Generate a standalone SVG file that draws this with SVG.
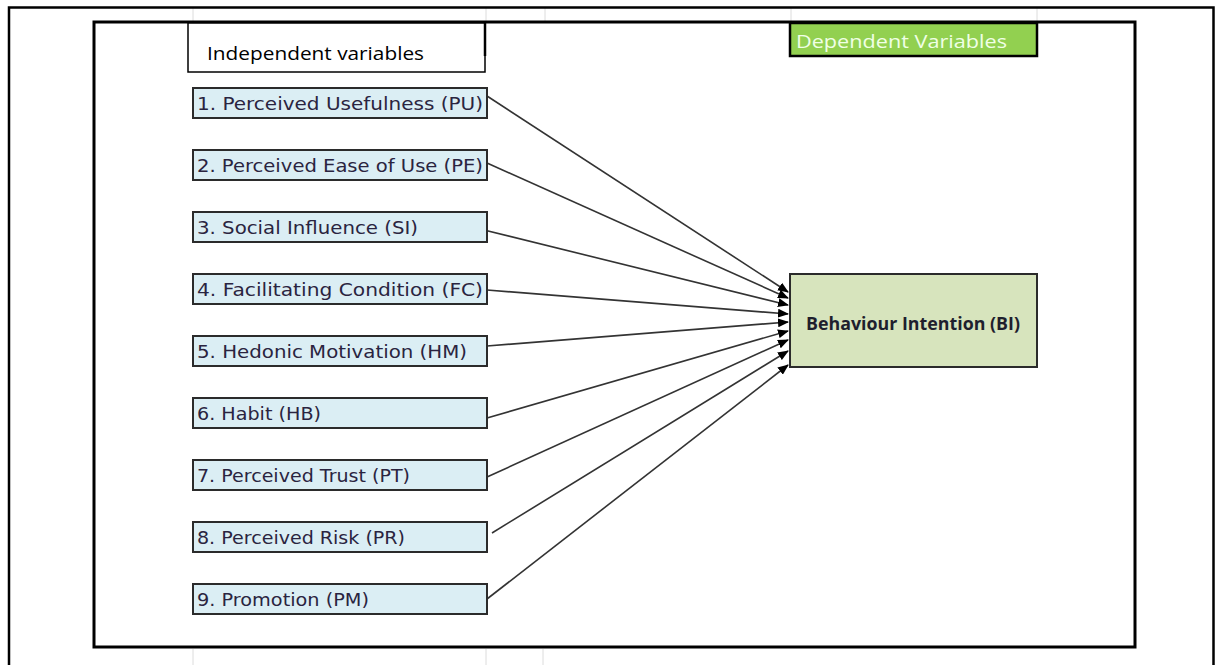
<svg xmlns="http://www.w3.org/2000/svg" width="1216" height="665" viewBox="0 0 1216 665">
<defs>
<style>
.grid{stroke:#dcdcdc;stroke-width:1}
.var rect{fill:#dbeef4;stroke:#2b2b2b;stroke-width:2}
.var text{font-family:"DejaVu Sans","Noto Sans",sans-serif;font-size:17px;fill:#2a2440}
.conn line{stroke:#333;stroke-width:1.6;marker-end:url(#ah)}
</style>
<marker id="ah" markerWidth="11" markerHeight="9" refX="10" refY="4.5" orient="auto" markerUnits="userSpaceOnUse">
<path d="M0,0 L11,4.5 L0,9 Z" fill="#000"/>
</marker>
</defs>
<rect width="1216" height="665" fill="#fff"/>
<g id="gridlines">
<line class="grid" x1="193" y1="8" x2="193" y2="22"/>
<line class="grid" x1="486" y1="8" x2="486" y2="22"/>
<line class="grid" x1="545" y1="8" x2="545" y2="22"/>
<line class="grid" x1="791" y1="8" x2="791" y2="22"/>
<line class="grid" x1="1037" y1="8" x2="1037" y2="22"/>
<line class="grid" x1="193" y1="649" x2="193" y2="665"/>
<line class="grid" x1="486" y1="649" x2="486" y2="665"/>
<line class="grid" x1="543" y1="649" x2="543" y2="665"/>
</g>
<g id="outer-frame">
<path d="M9,666 V7.5 H1213.5 V666" fill="none" stroke="#000" stroke-width="2.5"/>
</g>
<g id="inner-frame">
<rect x="94" y="22" width="1041" height="625" fill="none" stroke="#000" stroke-width="3"/>
</g>
<g id="independent-label">
<rect x="188" y="23" width="297" height="49" fill="#fff" stroke="#000" stroke-width="1.5"/>
<line x1="485" y1="22" x2="485" y2="56" stroke="#000" stroke-width="2.5"/>
<text x="207" y="60" font-family="'Open Sans','Liberation Sans',sans-serif" font-size="19" fill="#000" textLength="217" lengthAdjust="spacingAndGlyphs">Independent variables</text>
</g>
<g id="dependent-label">
<rect x="790" y="23" width="247" height="33" fill="#92d050" stroke="#000" stroke-width="2.5"/>
<text x="796" y="48" font-family="'Open Sans','Liberation Sans',sans-serif" font-size="19" fill="#f0ffe6" textLength="211" lengthAdjust="spacingAndGlyphs">Dependent Variables</text>
</g>
<g id="connectors" class="conn">
<line x1="487" y1="96" x2="788" y2="292"/>
<line x1="487" y1="163" x2="788" y2="298"/>
<line x1="484" y1="230" x2="788" y2="305"/>
<line x1="487" y1="290" x2="788" y2="314"/>
<line x1="487" y1="346" x2="788" y2="322"/>
<line x1="487" y1="418" x2="788" y2="331"/>
<line x1="487" y1="477" x2="788" y2="340"/>
<line x1="492" y1="533" x2="788" y2="351"/>
<line x1="487" y1="599" x2="788" y2="365"/>
</g>
<g id="node-pu" class="var"><rect x="193" y="88" width="294" height="30"/><text x="197" y="110" textLength="286" lengthAdjust="spacingAndGlyphs">1. Perceived Usefulness (PU)</text></g>
<g id="node-pe" class="var"><rect x="193" y="150" width="294" height="30"/><text x="197" y="172" textLength="286" lengthAdjust="spacingAndGlyphs">2. Perceived Ease of Use (PE)</text></g>
<g id="node-si" class="var"><rect x="193" y="212" width="294" height="30"/><text x="197" y="234" textLength="221" lengthAdjust="spacingAndGlyphs">3. Social Influence (SI)</text></g>
<g id="node-fc" class="var"><rect x="193" y="274" width="294" height="30"/><text x="197" y="296" textLength="286" lengthAdjust="spacingAndGlyphs">4. Facilitating Condition (FC)</text></g>
<g id="node-hm" class="var"><rect x="193" y="336" width="294" height="30"/><text x="197" y="358" textLength="270" lengthAdjust="spacingAndGlyphs">5. Hedonic Motivation (HM)</text></g>
<g id="node-hb" class="var"><rect x="193" y="398" width="294" height="30"/><text x="197" y="420" textLength="124" lengthAdjust="spacingAndGlyphs">6. Habit (HB)</text></g>
<g id="node-pt" class="var"><rect x="193" y="460" width="294" height="30"/><text x="197" y="482" textLength="213" lengthAdjust="spacingAndGlyphs">7. Perceived Trust (PT)</text></g>
<g id="node-pr" class="var"><rect x="193" y="522" width="294" height="30"/><text x="197" y="544" textLength="208" lengthAdjust="spacingAndGlyphs">8. Perceived Risk (PR)</text></g>
<g id="node-pm" class="var"><rect x="193" y="584" width="294" height="30"/><text x="197" y="606" textLength="172" lengthAdjust="spacingAndGlyphs">9. Promotion (PM)</text></g>
<g id="node-bi">
<rect x="790" y="274" width="247" height="93" fill="#d7e4bd" stroke="#2b2b2b" stroke-width="2"/>
<text x="913" y="330" text-anchor="middle" font-family="'Open Sans','Liberation Sans',sans-serif" font-weight="bold" font-size="17" fill="#1f1f2e" textLength="214" lengthAdjust="spacingAndGlyphs">Behaviour Intention (BI)</text>
</g>
</svg>
